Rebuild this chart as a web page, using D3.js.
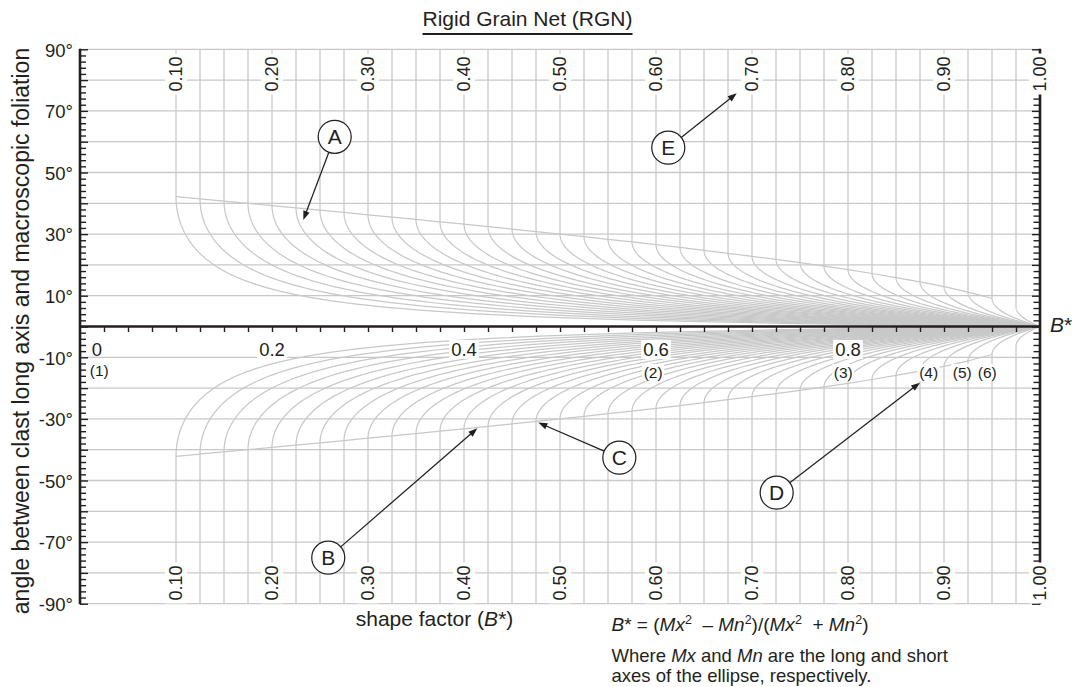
<!DOCTYPE html>
<html><head><meta charset="utf-8">
<script src="https://cdn.jsdelivr.net/npm/d3@7"></script>
<style>
body{margin:0;background:#fff}
svg{display:block}
text{font-family:"Liberation Sans",Arial,Helvetica,sans-serif;fill:#231f20}
</style>
</head><body>
<svg id="c" width="1072" height="687"></svg>
<script>
// ---- data ----
const wmValues = [0.100,0.125,0.150,0.175,0.200,0.225,0.250,0.275,0.300,0.325,0.350,0.375,0.400,0.425,0.450,0.475,0.500,0.525,0.550,0.575,0.600,0.625,0.650,0.675,0.700,0.725,0.750,0.775,0.800,0.825,0.850,0.875,0.900,0.925,0.950,0.975,1.000];
const netLabelValues = [0.10,0.20,0.30,0.40,0.50,0.60,0.70,0.80,0.90,1.00];
const netLabels = ["0.10","0.20","0.30","0.40","0.50","0.60","0.70","0.80","0.90","1.00"];
const angleTicks = [90,70,50,30,10,-10,-30,-50,-70,-90];
const gridAngles = [90,80,70,60,50,40,30,20,10,-10,-20,-30,-40,-50,-60,-70,-80,-90];
const shapeTicks = [0,0.2,0.4,0.6,0.8];
const shapeTickLabels = ["0","0.2","0.4","0.6","0.8"];
const zeroTicks = [0.025,0.050,0.075,0.100,0.125,0.150,0.175,0.200,0.225,0.250,0.275,0.300,0.325,0.350,0.375,0.400,0.425,0.450,0.475,0.500,0.525,0.550,0.575,0.600,0.625,0.650,0.675,0.700,0.725,0.750,0.775,0.800,0.825,0.850,0.875,0.900,0.925,0.950,0.975];
const fieldLabels = ["(1)","(2)","(3)","(4)","(5)","(6)"];
const fieldPos = [0.020,0.597,0.795,0.884,0.919,0.945];
const annLetters = ["A","B","C","D","E"];
const annCircle = [[0.2653,61.6],[0.2586,-75.06],[0.5618,-42.6],[0.7257,-53.96],[0.6128,58.05]];
const annTip = [[0.2326,34.6],[0.4139,-33.05],[0.4774,-31.2],[0.875,-18.25],[0.6841,75.7]];

// ---- layout ----
const svg = d3.select("#c");
const x = d3.scaleLinear().domain([0,1]).range([80,1040]);
const y = d3.scaleLinear().domain([-90,90]).range([603.7,49.3]);
const GRAY = "#c8c8c8", INK = "#231f20";
const deg = 180/Math.PI;

const g = svg.append("g");

// horizontal gridlines
g.selectAll("line.h").data(gridAngles).join("line")
  .attr("x1", x(0)).attr("x2", x(1))
  .attr("y1", d=>y(d)).attr("y2", d=>y(d))
  .attr("stroke", GRAY).attr("stroke-width", 1.3);

// net curves (Jeffery stable orientation for Wm = critical B*)
function netPoints(wm, sign){
  const amax = Math.acos(wm);
  const pts = [[wm, 90*sign]];
  const N = 80;
  for(let i=0;i<=N;i++){
    const a = amax*i/N;
    pts.push([wm/Math.cos(a), sign*0.5*(amax-a)*deg]);
  }
  return pts;
}
const line = d3.line().x(d=>x(d[0])).y(d=>y(d[1]));
[1,-1].forEach(s=>{
  g.selectAll(null).data(wmValues).join("path")
    .attr("d", d=>line(netPoints(d,s)))
    .attr("fill","none").attr("stroke",GRAY).attr("stroke-width",1.25);
});
// envelope through the curve starting points
const envLine = d3.line().curve(d3.curveMonotoneX).x(d=>x(d[0])).y(d=>y(d[1]));
[1,-1].forEach(s=>{
  const pts = wmValues.filter(w=>w<=0.95).map(w=>[w, s*0.5*Math.acos(w)*deg]);
  g.append("path").attr("d", envLine(pts)).attr("fill","none")
    .attr("stroke",GRAY).attr("stroke-width",1.25);
});

// ---- axes ----
const ax = svg.append("g");
const leftAxis = d3.axisRight(y).tickValues(d3.range(-90,91,2)).tickSize(6).tickFormat("");
const la = ax.append("g").attr("transform",`translate(${x(0)},0)`).call(leftAxis);
const rightAxis = d3.axisLeft(y).tickValues(d3.range(-90,91,2)).tickSize(6.5).tickFormat("");
const ra = ax.append("g").attr("transform",`translate(${x(1)},0)`).call(rightAxis);
[la,ra].forEach(a=>{
  a.select(".domain").remove();
  a.selectAll(".tick line").attr("stroke",INK).attr("stroke-width",1.4);
  a.selectAll(".tick").filter(d=>d%10===0).select("line").attr("x2", a===la?8:-8);
});
ax.append("line").attr("x1",x(0)).attr("x2",x(0)).attr("y1",y(90)-0.5).attr("y2",y(-90)+0.5)
  .attr("stroke",INK).attr("stroke-width",2.6);
ax.append("line").attr("x1",x(1)).attr("x2",x(1)).attr("y1",y(90)-0.5).attr("y2",y(-90)+0.5)
  .attr("stroke",INK).attr("stroke-width",2.6);
// zero line with ticks
const zeroAxis = d3.axisBottom(x).tickValues(zeroTicks).tickSize(5.5).tickFormat("");
const za = ax.append("g").attr("transform",`translate(0,${y(0)})`).call(zeroAxis);
za.select(".domain").remove();
za.selectAll(".tick line").attr("stroke",INK).attr("stroke-width",1.4);
ax.append("line").attr("x1",x(0)).attr("x2",x(1)).attr("y1",y(0)).attr("y2",y(0))
  .attr("stroke",INK).attr("stroke-width",2.6);

// y tick labels
svg.selectAll("text.yt").data(angleTicks).join("text")
  .attr("x", 73).attr("y", d=>y(d)+7.3).attr("text-anchor","end")
  .attr("font-size",18.5).text(d=>d+"°");

// zero-line labels
shapeTicks.forEach((v,i)=>{
  const cx = v===0 ? x(0)+17 : x(v);
  const t = svg.append("text").attr("x",cx).attr("y",355.5).attr("text-anchor","middle")
    .attr("font-size",18.5).text(shapeTickLabels[i]);
  const bb = t.node().getBBox();
  if(v!==0) svg.insert("rect", ()=>t.node()).attr("x",bb.x-2).attr("y",340).attr("width",bb.width+4).attr("height",19).attr("fill","#fff");
});
// field labels
fieldLabels.forEach((s,i)=>{
  const t = svg.append("text").attr("x",x(fieldPos[i])).attr("y", i===0?376:378)
    .attr("text-anchor","middle").attr("font-size",15.5).text(s);
  const bb = t.node().getBBox();
  svg.insert("rect", ()=>t.node()).attr("x",bb.x-1.5).attr("y",bb.y).attr("width",bb.width+3).attr("height",bb.height).attr("fill","#fff");
});

// net labels (top & bottom)
[74,583].forEach(cy=>{
  netLabelValues.forEach((v,i)=>{
    const cx = x(v);
    svg.append("rect").attr("x",cx-11).attr("y",cy-20.5).attr("width",22).attr("height",41).attr("fill","#fff");
    svg.append("text").attr("transform",`translate(${cx},${cy}) rotate(-90)`)
      .attr("x",0).attr("y",6.4).attr("text-anchor","middle").attr("font-size",18).text(netLabels[i]);
  });
});

// annotations
annLetters.forEach((L,i)=>{
  const cx = x(annCircle[i][0]), cy = y(annCircle[i][1]);
  const tx = x(annTip[i][0]), ty = y(annTip[i][1]);
  const r = 16.5;
  const dx = tx-cx, dy = ty-cy, len = Math.hypot(dx,dy), ux = dx/len, uy = dy/len;
  const hl = 9, hw = 3.3;
  const bx = tx-ux*hl, by = ty-uy*hl;
  svg.append("line").attr("x1",cx+ux*r).attr("y1",cy+uy*r).attr("x2",bx+ux*1).attr("y2",by+uy*1)
    .attr("stroke",INK).attr("stroke-width",1.25);
  svg.append("path").attr("d",`M${tx},${ty}L${bx-uy*hw},${by+ux*hw}L${bx+uy*hw},${by-ux*hw}Z`).attr("fill",INK);
  svg.append("circle").attr("cx",cx).attr("cy",cy).attr("r",r).attr("fill","#fff")
    .attr("stroke",INK).attr("stroke-width",1.25);
  svg.append("text").attr("x",cx).attr("y",cy+7.4).attr("text-anchor","middle").attr("font-size",21).text(L);
});

// titles
const title = svg.append("text").attr("x",527.5).attr("y",26).attr("text-anchor","middle").attr("font-size",21).text("Rigid Grain Net (RGN)");
const tb = title.node().getBBox();
svg.append("line").attr("x1",tb.x).attr("x2",tb.x+tb.width).attr("y1",34).attr("y2",34).attr("stroke",INK).attr("stroke-width",2);

svg.append("text").attr("transform","translate(29,331) rotate(-90)").attr("text-anchor","middle")
  .attr("font-size",23).text("angle between clast long axis and macroscopic foliation");

const xt = svg.append("text").attr("x",434.5).attr("y",625.5).attr("text-anchor","middle").attr("font-size",21);
xt.append("tspan").text("shape factor (");
xt.append("tspan").attr("font-style","italic").text("B");
xt.append("tspan").text("*)");

const bs = svg.append("text").attr("x",1050).attr("y",332).attr("font-size",21);
bs.append("tspan").attr("font-style","italic").text("B");
bs.append("tspan").text("*");

// formula
const f = svg.append("text").attr("x",611.5).attr("y",631).attr("font-size",19);
let pendingDy = 0;
function seg(s, italic){
  const t = f.append("tspan").text(s);
  if(italic) t.attr("font-style","italic");
  if(pendingDy){ t.attr("dy", pendingDy); pendingDy = 0; }
}
function sup(s){ f.append("tspan").attr("font-size",12.5).attr("dy",-7).text(s); pendingDy = 7; }
seg("B",true); seg("* = ("); seg("Mx",true); sup("2"); seg("\u00a0 \u2013 "); seg("Mn",true); sup("2");
seg(")/("); seg("Mx",true); sup("2"); seg("\u00a0 + "); seg("Mn",true); sup("2"); seg(")");

const w1 = svg.append("text").attr("x",611.5).attr("y",661.5).attr("font-size",18.5);
w1.append("tspan").text("Where ");
w1.append("tspan").attr("font-style","italic").text("Mx");
w1.append("tspan").text(" and ");
w1.append("tspan").attr("font-style","italic").text("Mn");
w1.append("tspan").text(" are the long and short");
svg.append("text").attr("x",611.5).attr("y",681.5).attr("font-size",18.5).text("axes of the ellipse, respectively.");
</script>
</body></html>
